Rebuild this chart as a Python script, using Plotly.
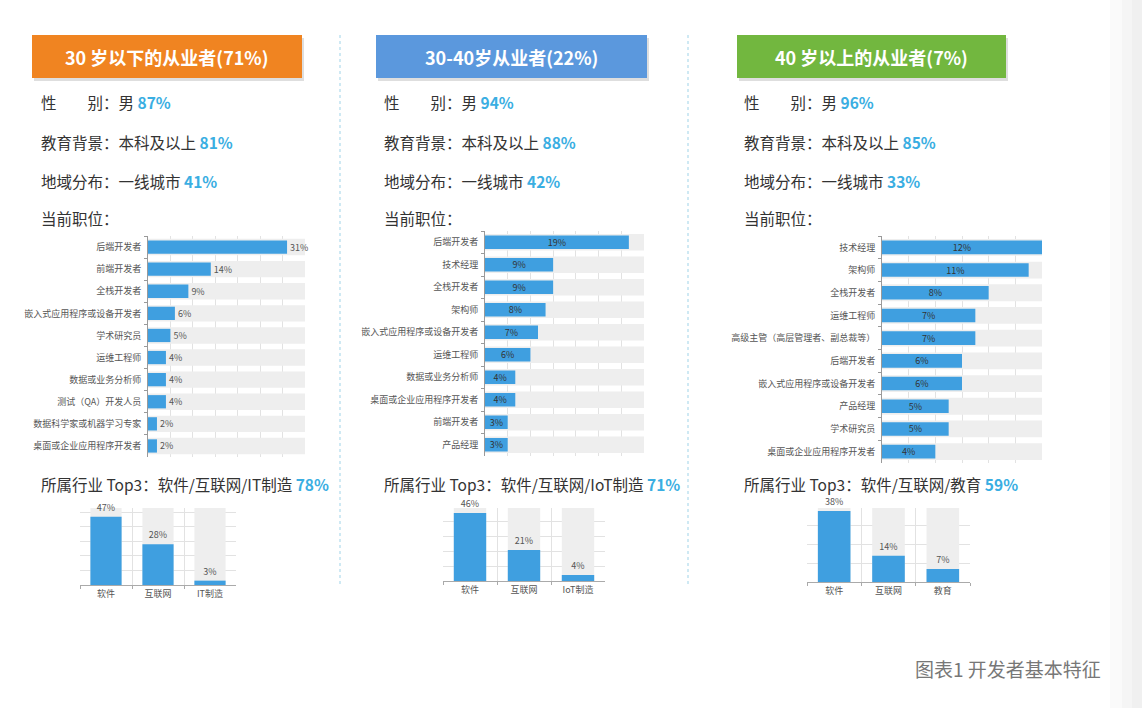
import plotly.graph_objects as go

W, H = 1142, 708
FONT = "Noto Sans CJK SC"

# ---------------- data ----------------
groups = ["30 岁以下的从业者(71%)", "30-40岁从业者(22%)", "40 岁以上的从业者(7%)"]
male_pct = ["87%", "94%", "96%"]
edu_pct = ["81%", "88%", "85%"]
city_pct = ["41%", "42%", "33%"]
industry_titles = ["软件/互联网/IT制造", "软件/互联网/IoT制造", "软件/互联网/教育"]
industry_pct = ["78%", "71%", "59%"]

roles_u30 = ["后端开发者", "前端开发者", "全栈开发者", "嵌入式应用程序或设备开发者", "学术研究员",
             "运维工程师", "数据或业务分析师", "测试（QA）开发人员", "数据科学家或机器学习专家",
             "桌面或企业应用程序开发者"]
vals_u30 = [31, 14, 9, 6, 5, 4, 4, 4, 2, 2]

roles_30_40 = ["后端开发者", "技术经理", "全栈开发者", "架构师", "嵌入式应用程序或设备开发者",
               "运维工程师", "数据或业务分析师", "桌面或企业应用程序开发者", "前端开发者", "产品经理"]
vals_30_40 = [19, 9, 9, 8, 7, 6, 4, 4, 3, 3]

roles_o40 = ["技术经理", "架构师", "全栈开发者", "运维工程师", "高级主管（高层管理者、副总裁等）",
             "后端开发者", "嵌入式应用程序或设备开发者", "产品经理", "学术研究员", "桌面或企业应用程序开发者"]
vals_o40 = [12, 11, 8, 7, 7, 6, 6, 5, 5, 4]

ind_u30 = ["软件", "互联网", "IT制造"]
ind_vals_u30 = [47, 28, 3]
ind_30_40 = ["软件", "互联网", "IoT制造"]
ind_vals_30_40 = [46, 21, 4]
ind_o40 = ["软件", "互联网", "教育"]
ind_vals_o40 = [38, 14, 7]

# ---------------- layout helpers ----------------
def fx(px):
    return px / W

def fy(py):
    return 1 - py / H

BLUE = "#3f9fe0"
BAND = "#eeeeee"
GRID = "#e2e2e2"

fig = go.Figure()

# horizontal charts: (roles, vals, x-domain px, y-domain px, xmax, dtick, text position)
hcharts = [
    (roles_u30, vals_u30, (148, 305), (236, 457), 35, 5, "outside"),
    (roles_30_40, vals_30_40, (485, 644), (231, 456), 21, 3, "inside"),
    (roles_o40, vals_o40, (882, 1042), (236, 463), 12, 2, "inside"),
]
# vertical charts
vcharts = [
    (ind_u30, ind_vals_u30, (80, 236), (508, 585), 53),
    (ind_30_40, ind_vals_30_40, (443, 605), (508, 581), 49.4),
    (ind_o40, ind_vals_o40, (807, 970), (508, 582), 39.6),
]

layout_axes = {}
idx = 0
for roles, vals, (x0, x1), (y0, y1), xmax, dt, tpos in hcharts:
    idx += 1
    xa, ya = f"x{idx}", f"y{idx}"
    fig.add_trace(go.Bar(orientation="h", y=roles, x=[xmax] * len(roles), width=0.74,
                         marker=dict(color=BAND, line=dict(width=0)), hoverinfo="skip",
                         xaxis=xa, yaxis=ya, showlegend=False))
    fig.add_trace(go.Bar(orientation="h", y=roles, x=vals, width=0.6,
                         text=[f"{v}%" for v in vals], textposition=tpos,
                         insidetextanchor="middle", constraintext="none", textangle=0,
                         textfont=dict(size=9, color="#555" if tpos == "outside" else "#333", family=FONT),
                         marker=dict(color=BLUE, line=dict(width=0)),
                         xaxis=xa, yaxis=ya, showlegend=False, cliponaxis=False))
    layout_axes[f"xaxis{idx}"] = dict(domain=[fx(x0), fx(x1)], range=[0, xmax], dtick=dt,
                                      showgrid=True, gridcolor=GRID, gridwidth=1,
                                      showticklabels=False, zeroline=False, anchor=ya,
                                      fixedrange=True)
    layout_axes[f"yaxis{idx}"] = dict(domain=[fy(y1), fy(y0)], autorange="reversed",
                                      showline=True, linecolor="#9a9a9a", linewidth=1,
                                      ticks="outside", ticklen=3, tickcolor="#9a9a9a",
                                      tickson="boundaries", showgrid=False,
                                      ticklabelstandoff=4,
                                      tickfont=dict(size=9, color="#555", family=FONT),
                                      anchor=xa, fixedrange=True)

for cats, vals, (x0, x1), (y0, y1), ymax in vcharts:
    idx += 1
    xa, ya = f"x{idx}", f"y{idx}"
    fig.add_trace(go.Bar(x=cats, y=[ymax] * len(cats), width=0.6,
                         marker=dict(color=BAND, line=dict(width=0)), hoverinfo="skip",
                         xaxis=xa, yaxis=ya, showlegend=False))
    fig.add_trace(go.Bar(x=cats, y=vals, width=0.6,
                         text=[f"{v}%" for v in vals], textposition="outside",
                         constraintext="none", textangle=0,
                         textfont=dict(size=9, color="#555", family=FONT),
                         marker=dict(color=BLUE, line=dict(width=0)),
                         xaxis=xa, yaxis=ya, showlegend=False, cliponaxis=False))
    layout_axes[f"xaxis{idx}"] = dict(domain=[fx(x0), fx(x1)], showgrid=True, gridcolor=GRID,
                                      tickson="boundaries", ticks="outside", ticklen=3,
                                      tickcolor="#aaa", showline=True, linecolor="#aaa",
                                      tickfont=dict(size=9, color="#555", family=FONT),
                                      anchor=ya, fixedrange=True)
    layout_axes[f"yaxis{idx}"] = dict(domain=[fy(y1), fy(y0)], range=[0, ymax], dtick=10,
                                      showgrid=True, gridcolor=GRID, showticklabels=False,
                                      zeroline=False, anchor=xa, fixedrange=True)

# ---------------- shapes & text ----------------
shapes = []
annotations = []
header_boxes = [(32, 302, "#f08421"), (376, 647, "#5b98dd"), (737, 1006, "#72b73f")]
text_x = [39, 382, 742]
BLUE_TXT = "#3aaee2"

# right edge faint shading
for sx0, sx1, c in [(1110, 1122, "#fafafa"), (1122, 1132, "#f5f5f5"), (1132, 1142, "#f0f0f0")]:
    shapes.append(dict(type="rect", xref="paper", yref="paper", x0=fx(sx0), x1=fx(sx1),
                       y0=0, y1=1, fillcolor=c, line=dict(width=0), layer="below"))

for i, (bx0, bx1, col) in enumerate(header_boxes):
    shapes.append(dict(type="rect", xref="paper", yref="paper",
                       x0=fx(bx0 + 2), x1=fx(bx1 + 2), y0=fy(81), y1=fy(38),
                       fillcolor="rgba(0,0,0,0.13)", line=dict(width=0)))
    shapes.append(dict(type="rect", xref="paper", yref="paper",
                       x0=fx(bx0), x1=fx(bx1), y0=fy(78), y1=fy(35),
                       fillcolor=col, line=dict(width=0)))
    annotations.append(dict(xref="paper", yref="paper", x=fx((bx0 + bx1) / 2), y=fy(57),
                            text=f"<b>{groups[i]}</b>", showarrow=False,
                            font=dict(size=18, color="white", family=FONT),
                            xanchor="center", yanchor="middle"))
    tx = fx(text_x[i])
    lines = [
        (102, f"性　　别：男 <b><span style='color:{BLUE_TXT}'>{male_pct[i]}</span></b>"),
        (142, f"教育背景：本科及以上 <b><span style='color:{BLUE_TXT}'>{edu_pct[i]}</span></b>"),
        (181, f"地域分布：一线城市 <b><span style='color:{BLUE_TXT}'>{city_pct[i]}</span></b>"),
        (218, "当前职位："),
        (484, f"所属行业 Top3：{industry_titles[i]} <b><span style='color:{BLUE_TXT}'>{industry_pct[i]}</span></b>"),
    ]
    for yy, t in lines:
        annotations.append(dict(xref="paper", yref="paper", x=tx, y=fy(yy), text=t,
                                showarrow=False, xanchor="left", yanchor="middle",
                                font=dict(size=15.5, color="#333", family=FONT)))

for sx in (340, 688):
    shapes.append(dict(type="line", xref="paper", yref="paper", x0=fx(sx), x1=fx(sx),
                       y0=fy(35), y1=fy(586), line=dict(color="#9fd3e8", width=1, dash="dot")))

annotations.append(dict(xref="paper", yref="paper", x=fx(1103), y=fy(668),
                        text="图表1 开发者基本特征", showarrow=False, xanchor="right",
                        yanchor="middle", font=dict(size=19, color="#777", family=FONT)))

fig.update_layout(width=W, height=H, margin=dict(l=0, r=0, t=0, b=0),
                  paper_bgcolor="white", plot_bgcolor="rgba(0,0,0,0)",
                  barmode="overlay", bargap=0.3, showlegend=False,
                  font=dict(family=FONT), shapes=shapes, annotations=annotations,
                  **layout_axes)

fig.write_html("out.html", config={"displayModeBar": False})
